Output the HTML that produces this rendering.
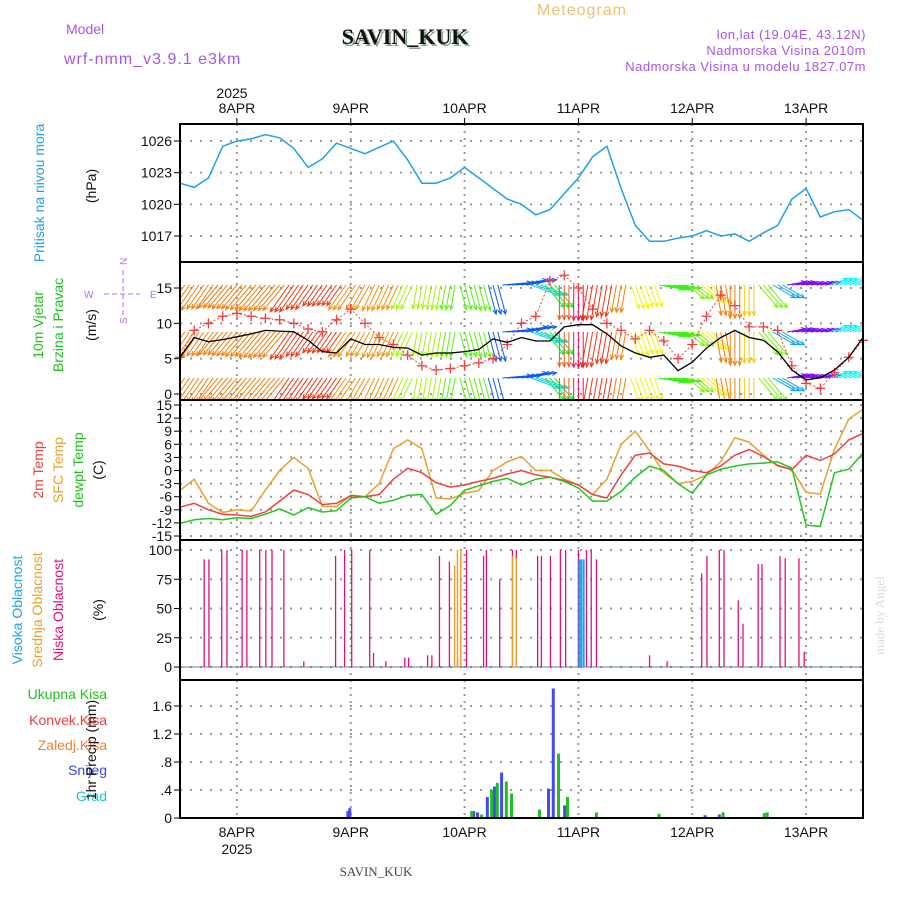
<!DOCTYPE html>
<html><head><meta charset="utf-8"><title>Meteogram SAVIN_KUK</title>
<style>
html,body{margin:0;padding:0;background:#fff;}
svg{display:block;font-family:"Liberation Sans",sans-serif;}
</style></head>
<body>
<svg id="chart" width="900" height="900" viewBox="0 0 900 900" xmlns="http://www.w3.org/2000/svg">
<g>
<text x="66" y="34" font-size="14" fill="#a855e8">Model</text>
<text x="64" y="64" font-size="16" fill="#a855e8" letter-spacing="1">wrf-nmm_v3.9.1 e3km</text>
<text x="405" y="44" font-size="22" font-weight="bold" text-anchor="middle" fill="#8a8" font-family="Liberation Serif,serif" transform="translate(2,2)">SAVIN_KUK</text>
<text x="405" y="44" font-size="22" font-weight="bold" text-anchor="middle" fill="#111" font-family="Liberation Serif,serif">SAVIN_KUK</text>
<text x="582" y="15" font-size="16" text-anchor="middle" fill="#f0c070" letter-spacing="1">Meteogram</text>
<text x="866" y="39" font-size="13" text-anchor="end" fill="#a855e8" letter-spacing="0.5">lon,lat (19.04E, 43.12N)</text>
<text x="866" y="55" font-size="13" text-anchor="end" fill="#a855e8" letter-spacing="0.5">Nadmorska Visina 2010m</text>
<text x="866" y="71" font-size="13" text-anchor="end" fill="#a855e8" letter-spacing="0.5">Nadmorska Visina u modelu 1827.07m</text>
<text x="232" y="98" font-size="14" text-anchor="middle" fill="#111">2025</text>
<text x="376" y="876" font-size="13" text-anchor="middle" fill="#444" font-family="Liberation Serif,serif">SAVIN_KUK</text>
<text x="0" y="0" font-size="13" fill="#d8dcd8" font-family="Liberation Serif,serif" transform="translate(884,655) rotate(-90)">made by Angel</text>
</g>
<g font-size="14">
<text transform="translate(44,193) rotate(-90)" text-anchor="middle" fill="#1fa0f0">Pritisak na nivou mora</text>
<text transform="translate(96,186) rotate(-90)" text-anchor="middle" fill="#111">(hPa)</text>
<text transform="translate(43,325) rotate(-90)" text-anchor="middle" fill="#20c020">10m Vjetar</text>
<text transform="translate(63,325) rotate(-90)" text-anchor="middle" fill="#20c020">Brzina i Pravac</text>
<text transform="translate(96,325) rotate(-90)" text-anchor="middle" fill="#111">(m/s)</text>
<g fill="#b070f0" font-size="10">
<text x="84" y="298">W</text><text x="150" y="298">E</text>
<text transform="translate(127,265) rotate(-90)">N</text>
<text transform="translate(127,324) rotate(-90)">S</text>
<line x1="104" y1="294" x2="140" y2="294" stroke="#b070f0" stroke-dasharray="5,3"/>
<line x1="123" y1="270" x2="123" y2="318" stroke="#b070f0" stroke-dasharray="5,3"/>
</g>
<text transform="translate(43,470) rotate(-90)" text-anchor="middle" fill="#f03c3c">2m Temp</text>
<text transform="translate(63,470) rotate(-90)" text-anchor="middle" fill="#e8a030">SFC Temp</text>
<text transform="translate(83,470) rotate(-90)" text-anchor="middle" fill="#20c020">dewpt Temp</text>
<text transform="translate(103,470) rotate(-90)" text-anchor="middle" fill="#111">(C)</text>
<text transform="translate(22,610) rotate(-90)" text-anchor="middle" fill="#1fa0f0">Visoka Oblacnost</text>
<text transform="translate(42,610) rotate(-90)" text-anchor="middle" fill="#e8a030">Srednja Oblacnost</text>
<text transform="translate(63,610) rotate(-90)" text-anchor="middle" fill="#e0107a">Niska Oblacnost</text>
<text transform="translate(103,610) rotate(-90)" text-anchor="middle" fill="#111">(%)</text>
<text x="107" y="699" text-anchor="end" fill="#20c020">Ukupna Kisa</text>
<text x="107" y="725" text-anchor="end" fill="#f03c3c">Konvek.Kisa</text>
<text x="107" y="750" text-anchor="end" fill="#f08030">Zaledj.Kisa</text>
<text x="107" y="775" text-anchor="end" fill="#4040f0">Snijeg</text>
<text x="107" y="801" text-anchor="end" fill="#20c8c8">Grad</text>
<text transform="translate(96,750) rotate(-90)" text-anchor="middle" fill="#111">1hr Precip (mm)</text>
</g>
<g id="plots"></g>
</svg>
<script>
const hours3 = [0,3,6,9,12,15,18,21,24,27,30,33,36,39,42,45,48,51,54,57,60,63,66,69,72,75,78,81,84,87,90,93,96,99,102,105,108,111,114,117,120,123,126,129,132,135,138,141,144];
const pressure = [1022.0,1021.6,1022.5,1025.5,1026.0,1026.2,1026.6,1026.3,1025.3,1023.5,1024.3,1025.8,1025.3,1024.8,1025.4,1026.0,1024.2,1022.0,1022.0,1022.5,1023.5,1022.5,1021.5,1020.5,1020.0,1019.0,1019.5,1021.0,1022.5,1024.5,1025.5,1021.5,1018.0,1016.5,1016.5,1016.8,1017.0,1017.5,1017.0,1017.2,1016.5,1017.3,1018.0,1020.5,1021.5,1018.8,1019.3,1019.5,1018.5];
const windSpeed = [5.2,8,7.4,7.7,8.1,8.5,9,8.9,8.8,7.6,6,5.8,7.8,7,7,6.6,6.5,5.5,5.8,5.8,6,6.3,7.8,7.3,8,7.5,7.5,9.5,9.8,9.8,8.5,6.8,5.8,5.2,5.5,3.3,4.5,6.5,8,9,8,7.6,6,3.4,2,2.3,3.4,5.2,8];
const windGust = [5.2,9,10,11,11.4,11,10.7,10.5,10,9.2,8.8,10.5,12,10,8,7,5.5,4,3.4,3.6,4,4.4,5,7,10,11,16,16.8,15,12,10,9,7.8,9,7.5,5,7,11,14,12.5,9.5,9.5,9,4,1.5,0.8,3,5.2,7.6];
const windDir = [35,35,35,40,40,40,40,40,35,35,35,35,35,30,25,25,25,10,10,10,-15,-15,-15,-95,-100,-70,-40,0,0,10,10,10,-20,-20,-80,-80,-50,-50,-10,0,0,-40,-60,-100,-100,-100,-110,-110,-110];
const windHue = [30,30,30,30,30,30,30,30,10,10,10,10,35,35,35,35,80,80,80,100,100,100,220,220,220,190,130,20,340,10,10,30,60,60,110,110,90,60,30,30,50,90,200,270,270,270,180,180,180];
const temp2m = [-8.4,-7.5,-9,-10,-10.2,-10.5,-9.5,-7,-4.5,-5.5,-7.8,-7.5,-5.8,-6,-5.5,-2,0.5,-0.5,-2.8,-3.8,-3.3,-2.5,-1.8,-0.8,0,-1,-1.5,-2.3,-3.3,-5.5,-6.3,-1,3.5,4,1.5,1,0,-0.5,1,3.5,4.8,3.2,1.2,0.2,3.5,2.3,3.8,7,8.5];
const tempSfc = [-4.6,-2,-7.5,-9.6,-9,-9.3,-4.5,0,3,0.5,-8.2,-8.3,-5.6,-6,-3,5,7,5,-6.3,-6.5,-5.2,-4.6,0,2,3.2,0,0,-2,-3.3,-5.5,-2,6,9,4.5,-0.5,-3,-2.5,-1,2,7.5,6.5,3.5,1,0.2,-5,-5.4,4.9,11.8,14];
const tempDew = [-12.1,-11.3,-11,-11.3,-10.8,-11,-10,-8.8,-10.2,-8.5,-9.5,-9.2,-6.3,-6,-7.5,-6.8,-5.7,-5.5,-10,-8,-4.5,-3.5,-2.5,-1.8,-3.3,-2,-1.5,-2.5,-4,-7,-7,-4.8,-1.5,1,0,-3,-5.2,-1,0.3,1,1.5,1.7,2,0.5,-12.5,-12.8,-0.5,0.3,4];
const cloudLowHours = [5.1,6.1,8.8,9.9,13.1,14.1,16.8,18.1,19.4,21.9,26.1,32.8,34.7,36.2,40,40.8,43.4,47.4,48.2,52.2,53.1,54.7,56.8,58.5,60.4,64,64.6,67.4,70.1,70.9,75.4,76.2,78.1,80.2,81.3,84,85.7,86.7,87.8,99,102.7,110,111.1,113.7,114.7,117.7,118.7,121.9,122.7,126.5,127.6,130.5,131.6];
const cloudLowVals = [92,92,100,100,100,100,100,100,100,100,5,95,100,100,100,12,5,8,8,10,10,95,90,6,100,95,100,75,100,100,95,95,95,100,100,100,100,100,92,10,5,80,95,100,100,57,37,88,88,95,93,93,13];
const cloudMidHours = [57.9,58.5,59.2,70.1,70.9];
const cloudMidVals = [87,100,100,95,93];
const cloudHighHours = [84.2,84.6,85.1];
const cloudHighVals = [92,92,92];
const snowHours = [35.4,35.8,61.9,62.7,64.8,66.3,67.8,77.7,78.7,81.1,110.7,113.7];
const snowVals = [0.1,0.14,0.1,0.08,0.3,0.45,0.65,0.42,1.85,0.18,0.04,0.05];
const rainHours = [61.5,63.6,65.7,66.9,68.8,69.9,75.8,79.8,81.7,87.8,101,114.5,123.2,123.8];
const rainVals = [0.1,0.05,0.4,0.5,0.52,0.35,0.12,0.92,0.3,0.08,0.06,0.08,0.07,0.08];
const dayLabels = ['8APR','9APR','10APR','11APR','12APR','13APR'];
const dayHours = [12,36,60,84,108,132];
const pTicks = [1017,1020,1023,1026];
const wTicks = [0,5,10,15];
const tTicks = [-15,-12,-9,-6,-3,0,3,6,9,12,15];
const cTicks = [0,25,50,75,100];
const rTicks = [0,0.4,0.8,1.2,1.6];

const NS = 'http://www.w3.org/2000/svg';
const plots = document.getElementById('plots');
const X0 = 180, X1 = 863;
function X(h){ return X0 + h * (X1 - X0) / 144; }
function lin(v0,y0,v1,y1){ return v => y0 + (v - v0) * (y1 - y0) / (v1 - v0); }
const panels = [
 {name:'pressure-panel', top:124, bot:262, y:lin(1026,141,1017,236), ticks:pTicks, fmt:v=>v},
 {name:'wind-panel', top:262, bot:400, y:lin(0,394,15,288), ticks:wTicks, fmt:v=>v},
 {name:'temp-panel', top:400, bot:540, y:lin(15,405,-15,536), ticks:tTicks, fmt:v=>v},
 {name:'cloud-panel', top:540, bot:680, y:lin(100,550,0,667), ticks:cTicks, fmt:v=>v},
 {name:'precip-panel', top:680, bot:818, y:lin(0,818,1.6,706), ticks:rTicks, fmt:v=>v===0?'0':v.toFixed(1).replace(/^0/,'')}
];
function el(tag, attrs, parent){
  const e = document.createElementNS(NS, tag);
  for (const k in attrs) e.setAttribute(k, attrs[k]);
  (parent || plots).appendChild(e);
  return e;
}
function linePath(hs, vs, yf){ return hs.map((h,i)=>(i?'L':'M')+X(h).toFixed(1)+','+yf(vs[i]).toFixed(1)).join(''); }

panels.forEach(p => {
  const g = el('g', {});
  
  
  p.g = g;
  dayHours.forEach(h => {
    const gl = el('line', {x1:X(h), x2:X(h), y1:p.top, y2:p.bot, stroke:'#999', 'stroke-width':2, 'stroke-dasharray':'2,5'}, g);
    
    
  });
  p.ticks.forEach(v => {
    const yy = p.y(v);
    const gl = el('line', {x1:X0, x2:X1, y1:yy, y2:yy, stroke:'#999', 'stroke-width':2, 'stroke-dasharray':'2,8'}, g);
    
    
    const tk = el('line', {x1:X0-6, x2:X0, y1:yy, y2:yy, stroke:'#000'}, g);
    
    
    const t = el('text', {x:X0-8, y:yy+5, 'font-size':14, 'text-anchor':'end', fill:'#111'}, g);
    
    
    t.textContent = p.fmt(v);
  });
});

// pressure
{
  const p = panels[0];
  const path = el('path', {d:linePath(hours3, pressure, p.y), fill:'none', stroke:'#20a0f0', 'stroke-width':1.5}, p.g);
  
  
}
// wind
{
  const p = panels[1];
  const clip = el('clipPath', {id:'wclip'}, p.g);
  el('rect', {x:X0, y:p.top, width:X1-X0, height:p.bot-p.top}, clip);
  const ag = el('g', {'clip-path':'url(#wclip)'}, p.g);
  
  
  const rows = [285, 332, 378];
  for (let h = 0; h <= 144; h++) {
    const i = Math.min(48, Math.round(h/3));
    const sp = windSpeed[i];
    const a = windDir[i] * Math.PI/180;
    const hue = windHue[i];
    const L = 2.6*sp + 10;
    const dx = -Math.sin(a)*L, dy = Math.cos(a)*L;
    const ang = Math.atan2(dy,dx);
    const col = 'hsl('+hue+',90%,50%)';
    rows.forEach(ry => {
      const x1 = X(h), x2 = x1+dx, y2 = ry+dy;
      const ar = el('path', {stroke:col, 'stroke-width':1, fill:'none'}, ag);
      ar.setAttribute('d','M'+x1.toFixed(1)+','+ry+'L'+x2.toFixed(1)+','+y2.toFixed(1)+
        'M'+(x2-5*Math.cos(ang-0.4)).toFixed(1)+','+(y2-5*Math.sin(ang-0.4)).toFixed(1)+'L'+x2.toFixed(1)+','+y2.toFixed(1)+
        'L'+(x2-5*Math.cos(ang+0.4)).toFixed(1)+','+(y2-5*Math.sin(ang+0.4)).toFixed(1));
      
      
    });
  }
  const gl = el('path', {d:linePath(hours3, windGust, p.y), fill:'none', stroke:'#f04040', 'stroke-width':1, 'stroke-dasharray':'2,2'}, p.g);
  
  
  hours3.forEach((h,i) => {
    const cx = X(h), cy = p.y(windGust[i]);
    const m = el('path', {d:'M'+(cx-5)+','+cy+'h10M'+cx+','+(cy-5)+'v10', stroke:'#f04040', 'stroke-width':1.3}, p.g);
    
    
  });
  const sl = el('path', {d:linePath(hours3, windSpeed, p.y), fill:'none', stroke:'#000', 'stroke-width':1.3}, p.g);
  
  
}
// temps
{
  const p = panels[2];
  const s1 = el('path', {d:linePath(hours3, tempSfc, p.y), fill:'none', stroke:'#e8a030', 'stroke-width':1.5}, p.g);
  
  
  const s2 = el('path', {d:linePath(hours3, temp2m, p.y), fill:'none', stroke:'#f04040', 'stroke-width':1.5}, p.g);
  
  
  const s3 = el('path', {d:linePath(hours3, tempDew, p.y), fill:'none', stroke:'#20c820', 'stroke-width':1.5}, p.g);
  
  
}
// clouds
{
  const p = panels[3];
  const bl = el('line', {x1:X0, x2:X1, y1:p.y(0), y2:p.y(0), stroke:'#6080a0', 'stroke-width':1}, p.g);
  
  
  function bars(hs, vs, col, w, name){
    hs.forEach((h,i) => {
      const b = el('line', {x1:X(h), x2:X(h), y1:p.y(0), y2:p.y(vs[i]), stroke:col, 'stroke-width':w}, p.g);
      
      
    });
  }
  bars(cloudLowHours, cloudLowVals, '#e0107a', 1.3, 'cloud-low-bar');
  bars(cloudMidHours, cloudMidVals, '#e8a030', 1.5, 'cloud-mid-bar');
  bars(cloudHighHours, cloudHighVals, '#20a0f0', 2, 'cloud-high-bar');
}
// precip
{
  const p = panels[4];
  function bars(hs, vs, col, name){
    hs.forEach((h,i) => {
      const b = el('rect', {x:X(h)-1.5, width:3, y:p.y(vs[i]), height:p.y(0)-p.y(vs[i]), fill:col}, p.g);
      
      
    });
  }
  bars(snowHours, snowVals, '#4848f0', 'snow-bar');
  bars(rainHours, rainVals, '#20c020', 'total-precip-bar');
}
// frames and x labels
panels.forEach(p => {
  const r = el('rect', {x:X0, y:p.top, width:X1-X0, height:p.bot-p.top, fill:'none', stroke:'#000', 'stroke-width':2});
  
  
});
dayLabels.forEach((d,i) => {
  const x = X(dayHours[i]);
  const t1 = el('text', {x:x, y:113, 'font-size':14, 'text-anchor':'middle', fill:'#111'});
  
  
  t1.textContent = d;
  const t2 = el('text', {x:x, y:837, 'font-size':14, 'text-anchor':'middle', fill:'#111'});
  
  
  t2.textContent = d;
  el('line', {x1:x, x2:x, y1:118, y2:124, stroke:'#000'});
});
{
  const y = el('text', {x:X(12), y:854, 'font-size':14, 'text-anchor':'middle', fill:'#111'});
  
  
  y.textContent = '2025';
}
</script>
</body></html>
